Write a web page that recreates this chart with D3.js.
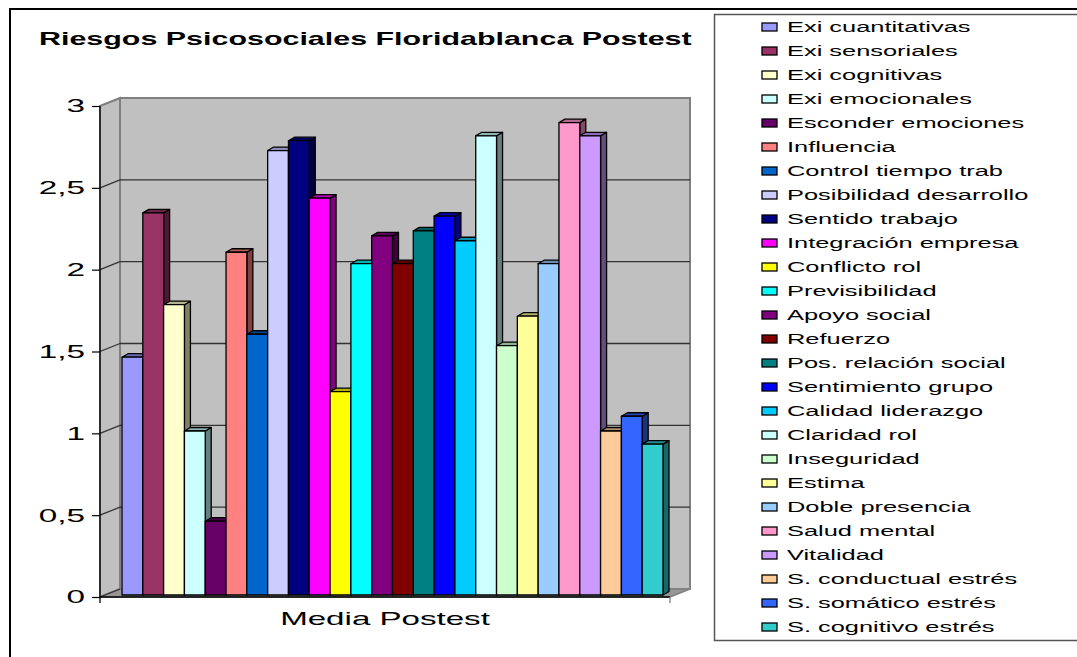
<!DOCTYPE html>
<html>
<head>
<meta charset="utf-8">
<script src="https://cdn.jsdelivr.net/npm/d3@7"></script>
<style>
  html, body { margin: 0; padding: 0; background: #fff; }
  svg { display: block; font-family: Arial, "Liberation Sans", sans-serif; }
</style>
</head>
<body>
<svg id="chart" width="1077" height="657"></svg>
<script>
// Psychosocial risk factors, post-test mean (one category, 26 series)
const seriesNames = [
  "Exi cuantitativas", "Exi sensoriales", "Exi cognitivas", "Exi emocionales",
  "Esconder emociones", "Influencia", "Control tiempo trab", "Posibilidad desarrollo",
  "Sentido trabajo", "Integración empresa", "Conflicto rol", "Previsibilidad",
  "Apoyo social", "Refuerzo", "Pos. relación social", "Sentimiento grupo",
  "Calidad liderazgo", "Claridad rol", "Inseguridad", "Estima",
  "Doble presencia", "Salud mental", "Vitalidad", "S. conductual estrés",
  "S. somático estrés", "S. cognitivo estrés"
];
const seriesValues = [
  1.45, 2.33, 1.77, 1.00,
  0.45, 2.09, 1.59, 2.71,
  2.77, 2.42, 1.24, 2.02,
  2.19, 2.02, 2.22, 2.31,
  2.16, 2.80, 1.52, 1.70,
  2.02, 2.88, 2.80, 1.00,
  1.09, 0.92
];
const categoryNames = ["Media Postest"];
const tickValues = [0, 0.5, 1, 1.5, 2, 2.5, 3];
const tickLabels = ["0", "0,5", "1", "1,5", "2", "2,5", "3"];
const chartTitle = "Riesgos Psicosociales Floridablanca Postest";

// classic spreadsheet series palette
const palette = [
  "#9999FF", "#993366", "#FFFFCC", "#CCFFFF", "#660066", "#FF8080", "#0066CC", "#CCCCFF",
  "#000080", "#FF00FF", "#FFFF00", "#00FFFF", "#800080", "#800000", "#008080", "#0000FF",
  "#00CCFF", "#CCFFFF", "#CCFFCC", "#FFFF99", "#99CCFF", "#FF99CC", "#CC99FF", "#FFCC99",
  "#3366FF", "#33CCCC"
];

const svg = d3.select("#chart");

// widen glyphs horizontally (the chart uses a broad sans face)
function stretch(sel, k) {
  sel.each(function () {
    const n = this.getComputedTextLength();
    d3.select(this).attr("textLength", n * k).attr("lengthAdjust", "spacingAndGlyphs");
  });
}
function shade(c, f) {
  const r = d3.rgb(c);
  return d3.rgb(r.r * f, r.g * f, r.b * f).formatHex();
}

// outer frame
svg.append("rect")
  .attr("x", 10).attr("y", 9).attr("width", 1200).attr("height", 800)
  .attr("fill", "none").attr("stroke", "#000").attr("stroke-width", 2);

// title
svg.append("text")
  .attr("x", 39).attr("y", 45)
  .attr("font-size", 17.7).attr("font-weight", "bold")
  .text(chartTitle)
  .call(stretch, 1.72);

// ---- 3D plot box ----
const front = { left: 100, right: 670 };
const wallOff = { dx: 20, dy: -8 };
const y = d3.scaleLinear().domain([0, 3]).range([597, 106]);       // front plane
const yWall = v => y(v) + wallOff.dy;                               // back wall plane
const wallLeft = front.left + wallOff.dx, wallRight = front.right + wallOff.dx;

const box = svg.append("g");
// back wall
box.append("rect")
  .attr("x", wallLeft).attr("y", yWall(3))
  .attr("width", wallRight - wallLeft).attr("height", yWall(0) - yWall(3))
  .attr("fill", "#C0C0C0").attr("stroke", "#808080").attr("stroke-width", 2);
// side wall
box.append("polygon")
  .attr("points", [[front.left, y(3)], [wallLeft, yWall(3)], [wallLeft, yWall(0)], [front.left, y(0)]].join(" "))
  .attr("fill", "#C0C0C0").attr("stroke", "#808080").attr("stroke-width", 2);
// floor
box.append("polygon")
  .attr("points", [[front.left, y(0)], [wallLeft, yWall(0)], [wallRight, yWall(0)], [front.right, y(0)]].join(" "))
  .attr("fill", "#969696").attr("stroke", "#808080").attr("stroke-width", 1.5);

// gridlines on back wall and side wall
const gridVals = tickValues.filter(v => v > 0 && v < 3);
box.selectAll("line.grid").data(gridVals).join("line")
  .attr("class", "grid")
  .attr("x1", wallLeft).attr("x2", wallRight)
  .attr("y1", d => yWall(d)).attr("y2", d => yWall(d))
  .attr("stroke", "#333").attr("stroke-width", 1.3);
box.selectAll("line.side").data(tickValues).join("line")
  .attr("class", "side")
  .attr("x1", front.left).attr("x2", wallLeft)
  .attr("y1", d => y(d)).attr("y2", d => yWall(d))
  .attr("stroke", d => d === 3 ? "#808080" : "#333").attr("stroke-width", 1.3);

// ---- bars ----
const x = d3.scaleBand().domain(seriesNames).range([122, 663]).padding(0);
const yBar = d3.scaleLinear().domain([0, 3]).range([595, 103]);
const bd = { dx: 6, dy: -3.5 };
const bars = svg.append("g")
  .attr("stroke", "#000").attr("stroke-width", 1.3).attr("stroke-linejoin", "round");

seriesNames.forEach((name, i) => {
  const v = seriesValues[i];
  const x0 = x(name), x1 = x0 + x.bandwidth();
  const top = yBar(v), bot = yBar(0);
  const g = bars.append("g");
  g.append("polygon")
    .attr("points", [[x1, top], [x1 + bd.dx, top + bd.dy], [x1 + bd.dx, bot + bd.dy], [x1, bot]].join(" "))
    .attr("fill", shade(palette[i], 0.5));
  g.append("polygon")
    .attr("points", [[x0, top], [x0 + bd.dx, top + bd.dy], [x1 + bd.dx, top + bd.dy], [x1, top]].join(" "))
    .attr("fill", shade(palette[i], 0.7));
  g.append("rect")
    .attr("x", x0).attr("y", top).attr("width", x1 - x0).attr("height", bot - top)
    .attr("fill", palette[i]);
});

// ---- axes ----
const yAxis = d3.axisLeft(y)
  .tickValues(tickValues)
  .tickFormat((d, i) => tickLabels[i])
  .tickSize(8).tickPadding(7);
const yAxisG = svg.append("g").attr("transform", `translate(${front.left},0)`).call(yAxis);
yAxisG.select(".domain").remove();
yAxisG.selectAll(".tick line").attr("stroke", "#000").attr("stroke-width", 1.2);
yAxisG.selectAll(".tick text")
  .attr("font-size", 18.5).attr("font-family", "Arial, 'Liberation Sans', sans-serif")
  .attr("fill", "#000")
  .call(stretch, 1.8);

svg.append("line")
  .attr("x1", front.left).attr("x2", front.left).attr("y1", y(3)).attr("y2", y(0) + 6)
  .attr("stroke", "#000").attr("stroke-width", 1.3);
svg.append("line")
  .attr("x1", front.left).attr("x2", front.right).attr("y1", y(0)).attr("y2", y(0))
  .attr("stroke", "#000").attr("stroke-width", 1.6);
svg.append("line")
  .attr("x1", front.right).attr("x2", front.right).attr("y1", y(0)).attr("y2", y(0) + 6)
  .attr("stroke", "#808080").attr("stroke-width", 1.3);

const xCat = d3.scaleBand().domain(categoryNames).range([front.left, front.right]);
const xAxis = d3.axisBottom(xCat).tickSize(0).tickPadding(0);
const xAxisG = svg.append("g").attr("transform", `translate(0,${y(0)})`).call(xAxis);
xAxisG.select(".domain").remove();
xAxisG.selectAll(".tick text")
  .attr("y", 28).attr("dy", 0)
  .attr("font-size", 18.6).attr("font-family", "Arial, 'Liberation Sans', sans-serif")
  .attr("fill", "#000")
  .call(stretch, 1.78);

// ---- legend ----
svg.append("rect")
  .attr("x", 714.5).attr("y", 14.5).attr("width", 400).attr("height", 626)
  .attr("fill", "#fff").attr("stroke", "#555").attr("stroke-width", 1.5);
const legend = svg.append("g");
const items = legend.selectAll("g.item").data(seriesNames).join("g")
  .attr("class", "item")
  .attr("transform", (d, i) => `translate(0,${31.5 + i * 24})`);
items.append("rect")
  .attr("x", 762).attr("y", -8.5).attr("width", 15).attr("height", 8)
  .attr("fill", (d, i) => palette[i]).attr("stroke", "#000").attr("stroke-width", 1.3);
items.append("text")
  .attr("x", 787).attr("y", 0)
  .attr("font-size", 15.3)
  .text(d => d)
  .call(stretch, 1.66);
</script>
</body>
</html>
